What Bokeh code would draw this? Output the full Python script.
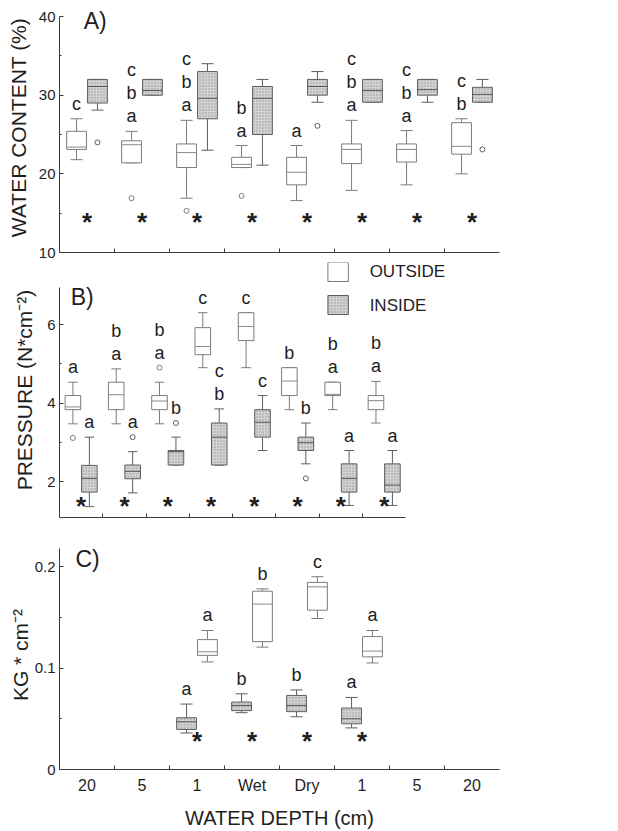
from bokeh.plotting import figure
from bokeh.models import FixedTicker, Range1d, ColumnDataSource
from bokeh.layouts import column
from bokeh.core.properties import value
from bokeh.embed import file_html
from bokeh.resources import INLINE

# ---------------- data ----------------
depth_labels = ["20", "5", "1", "Wet", "Dry", "1", "5", "20"]

# A) water content (%)
wc_out_low = [21.8, 21.4, 16.9, 20.8, 16.6, 17.9, 18.6, 20.0]
wc_out_q1 = [23.1, 21.4, 20.8, 20.8, 18.6, 21.3, 21.5, 22.5]
wc_out_med = [23.4, 23.7, 22.7, 21.2, 20.2, 23.1, 23.1, 23.5]
wc_out_q3 = [25.4, 24.2, 23.8, 22.1, 22.1, 23.8, 23.8, 26.5]
wc_out_high = [27.0, 25.4, 26.8, 23.6, 23.6, 26.8, 25.5, 27.0]
wc_out_outl_cat = [1, 2, 3]
wc_out_outl_val = [16.9, 15.3, 17.2]
wc_out_letters = ["c", "abc", "abc", "ab", "a", "abc", "abc", "bc"]

wc_in_low = [28.1, 30.0, 23.0, 21.1, 29.1, 29.1, 29.1, 29.1]
wc_in_q1 = [29.0, 30.0, 27.0, 25.0, 30.0, 29.1, 30.0, 29.1]
wc_in_med = [31.1, 30.6, 29.6, 29.6, 31.1, 30.6, 30.7, 30.1]
wc_in_q3 = [32.0, 32.0, 33.0, 31.1, 32.0, 32.0, 32.0, 31.0]
wc_in_high = [32.0, 32.0, 34.0, 32.0, 33.0, 32.0, 32.0, 32.0]
wc_in_outl_cat = [0, 4, 7]
wc_in_outl_val = [24.0, 26.1, 23.1]
wc_in_letters = ["", "", "", "", "", "", "", ""]
wc_signif = [1, 1, 1, 1, 1, 1, 1, 1]

# B) pressure (N*cm-2)
pr_out_low = [3.47, 3.47, 3.47, 4.90, 4.90, 3.83, 3.83, 3.49]
pr_out_q1 = [3.83, 3.83, 3.83, 5.23, 5.59, 4.19, 4.19, 3.83]
pr_out_med = [3.90, 4.21, 4.05, 5.44, 5.95, 4.56, 4.22, 4.06]
pr_out_q3 = [4.19, 4.53, 4.19, 5.92, 6.30, 4.90, 4.53, 4.19]
pr_out_high = [4.53, 4.87, 4.53, 6.30, 6.30, 4.90, 4.53, 4.55]
pr_out_outl_cat = [0, 2]
pr_out_outl_val = [3.11, 4.90]
pr_out_letters = ["a", "ab", "ab", "c", "c", "b", "ab", "ab"]

pr_in_low = [1.36, 1.71, 2.42, 2.42, 2.79, 2.45, 1.39, 1.39]
pr_in_q1 = [1.73, 2.07, 2.42, 2.42, 3.13, 2.79, 1.73, 1.73]
pr_in_med = [2.08, 2.26, 2.76, 3.13, 3.51, 2.99, 2.08, 1.91]
pr_in_q3 = [2.41, 2.42, 2.79, 3.49, 3.83, 3.13, 2.45, 2.45]
pr_in_high = [3.13, 2.76, 3.13, 3.85, 4.19, 3.49, 2.79, 2.79]
pr_in_outl_cat = [1, 2, 5]
pr_in_outl_val = [3.13, 3.49, 2.08]
pr_in_letters = ["a", "a", "b", "bc", "c", "b", "a", "a"]
pr_signif = [1, 1, 1, 1, 1, 1, 1, 1]

# C) KG * cm-2 (only shallow / emerged sites)
kg_out_low = [None, None, 0.106, 0.1206, 0.1488, 0.105, None, None]
kg_out_q1 = [None, None, 0.1125, 0.126, 0.157, 0.111, None, None]
kg_out_med = [None, None, 0.116, 0.163, 0.180, 0.1167, None, None]
kg_out_q3 = [None, None, 0.128, 0.1757, 0.1844, 0.131, None, None]
kg_out_high = [None, None, 0.137, 0.178, 0.190, 0.137, None, None]
kg_out_letters = ["", "", "a", "b", "c", "a", "", ""]

kg_in_low = [None, None, 0.036, 0.056, 0.052, 0.041, None, None]
kg_in_q1 = [None, None, 0.0395, 0.058, 0.057, 0.045, None, None]
kg_in_med = [None, None, 0.047, 0.063, 0.063, 0.050, None, None]
kg_in_q3 = [None, None, 0.051, 0.0665, 0.073, 0.0606, None, None]
kg_in_high = [None, None, 0.0645, 0.0746, 0.0784, 0.071, None, None]
kg_in_letters = ["", "", "a", "b", "b", "a", "", ""]
kg_signif = [0, 0, 1, 1, 1, 1, 0, 0]

# ---------------- style ----------------
FONT = "Liberation Sans"
N = len(depth_labels)
BOX_W = 0.36
CAP_W = 0.22
OFF = 0.19
SHADE = "#d2d2d2"
OUT_LINE = "#7c7c7c"
IN_LINE = "#5e5e5e"
AX = "#3a3a3a"
TXT = "#1e1e1e"
LEFT = 59
CAT_PX = 55.0


def make_fig(height, y0, y1, x_end, top, right, bottom):
    p = figure(width=618, height=height, x_range=Range1d(0, x_end), y_range=Range1d(y0, y1),
               output_backend="svg", toolbar_location=None, title=None,
               min_border_left=LEFT, min_border_right=right,
               min_border_top=top, min_border_bottom=bottom)
    p.outline_line_color = None
    p.xgrid.visible = False
    p.ygrid.visible = False
    return p


def style_axes(p, yticks, yminor, ybounds, ylabel, ystand, show_x, yover=None):
    ya = p.yaxis[0]
    ya.ticker = FixedTicker(ticks=yticks, minor_ticks=yminor)
    ya.bounds = ybounds
    ya.major_tick_in = 4
    ya.major_tick_out = 0
    ya.minor_tick_in = 2
    ya.minor_tick_out = 0
    ya.axis_line_color = AX
    ya.major_tick_line_color = AX
    ya.minor_tick_line_color = AX
    ya.major_label_text_font = FONT
    ya.major_label_text_font_size = "15px"
    ya.major_label_text_color = TXT
    ya.major_label_standoff = 4
    if yover:
        ya.major_label_overrides = yover
    ya.axis_label = ylabel
    ya.axis_label_text_font = FONT
    ya.axis_label_text_font_size = "21px"
    ya.axis_label_text_font_style = "normal"
    ya.axis_label_text_color = TXT
    ya.axis_label_standoff = ystand

    xa = p.xaxis[0]
    xa.bounds = (0, N)
    xa.major_tick_in = 0
    xa.major_tick_out = 0
    xa.minor_tick_in = 4
    xa.minor_tick_out = 0
    xa.axis_line_color = AX
    xa.minor_tick_line_color = AX
    if show_x:
        xa.ticker = FixedTicker(ticks=[i + 0.5 for i in range(N)], minor_ticks=list(range(1, N)))
        xa.major_label_overrides = {i + 0.5: lab for i, lab in enumerate(depth_labels)}
        xa.major_label_text_font = FONT
        xa.major_label_text_font_size = "16px"
        xa.major_label_text_color = TXT
        xa.major_label_standoff = 7
        xa.axis_label = "WATER DEPTH (cm)"
        xa.axis_label_text_font = FONT
        xa.axis_label_text_font_size = "20px"
        xa.axis_label_text_font_style = "normal"
        xa.axis_label_text_color = TXT
        xa.axis_label_standoff = 10
    else:
        xa.ticker = FixedTicker(ticks=[], minor_ticks=list(range(1, N)))
        xa.major_label_standoff = 0


def draw_group(p, dx, low, q1, med, q3, high, outl_cat, outl_val, letters, shaded):
    idx = [i for i in range(N) if med[i] is not None]
    x = [i + 0.5 + dx for i in idx]
    lo = [low[i] for i in idx]
    b = [q1[i] for i in idx]
    m = [med[i] for i in idx]
    t = [q3[i] for i in idx]
    hi = [high[i] for i in idx]
    lc = IN_LINE if shaded else OUT_LINE
    p.segment(x0=x, y0=t, x1=x, y1=hi, line_color=lc, line_width=1)
    p.segment(x0=x, y0=b, x1=x, y1=lo, line_color=lc, line_width=1)
    p.segment(x0=[v - CAP_W / 2 for v in x], y0=hi, x1=[v + CAP_W / 2 for v in x], y1=hi,
              line_color=lc, line_width=1)
    p.segment(x0=[v - CAP_W / 2 for v in x], y0=lo, x1=[v + CAP_W / 2 for v in x], y1=lo,
              line_color=lc, line_width=1)
    if shaded:
        p.vbar(x=x, width=BOX_W, bottom=b, top=t, fill_color=SHADE, line_color=lc, line_width=1,
               hatch_pattern="dot", hatch_color="#8c8c8c", hatch_scale=3, hatch_weight=0.7,
               hatch_alpha=0.8)
    else:
        p.vbar(x=x, width=BOX_W, bottom=b, top=t, fill_color="white", line_color=lc, line_width=1)
    p.segment(x0=[v - BOX_W / 2 for v in x], y0=m, x1=[v + BOX_W / 2 for v in x], y1=m,
              line_color="#555555" if shaded else "#8a8a8a", line_width=1)
    if outl_cat:
        p.scatter(x=[c + 0.5 + dx for c in outl_cat], y=outl_val, marker="circle", size=5,
                  fill_color="white", line_color=lc, line_width=1)
    tx, ty, tt, toff = [], [], [], []
    for i in idx:
        top = max([high[i]] + [v for c, v in zip(outl_cat, outl_val) if c == i])
        for j, ch in enumerate(letters[i]):
            tx.append(i + 0.5 + dx)
            ty.append(top)
            tt.append(ch)
            toff.append(-(15 + 23 * j))
    if tx:
        src = ColumnDataSource(dict(x=tx, y=ty, text=tt, off=toff))
        p.text(x="x", y="y", text="text", y_offset="off", source=src, text_align="center",
               text_baseline="middle", text_font=value(FONT), text_font_size="18px",
               text_color=TXT)


def draw_stars(p, signif, ypos):
    xs = [i + 0.5 for i in range(N) if signif[i]]
    p.text(x=xs, y=[ypos] * len(xs), text=["*"] * len(xs), text_align="center",
           text_baseline="middle", text_font=value(FONT), text_font_size="26px",
           text_font_style="bold", text_color=TXT, y_offset=3)


def panel_tag(p, x, y, label):
    p.text(x=[x], y=[y], text=[label], text_align="left", text_baseline="middle",
           text_font=value(FONT), text_font_size="23px", text_color=TXT)


# ---------------- panel A ----------------
A_PX = 236 / 30.0
pA = make_fig(262, 10, 40 + 14 / A_PX, N, 2, 618 - LEFT - 440, 10)
style_axes(pA, [10, 20, 30, 40], [15, 25, 35], (10, 40), "WATER CONTENT (%)", 6, False)
draw_group(pA, -OFF, wc_out_low, wc_out_q1, wc_out_med, wc_out_q3, wc_out_high,
           wc_out_outl_cat, wc_out_outl_val, wc_out_letters, False)
draw_group(pA, OFF, wc_in_low, wc_in_q1, wc_in_med, wc_in_q3, wc_in_high,
           wc_in_outl_cat, wc_in_outl_val, wc_in_letters, True)
draw_stars(pA, wc_signif, 14.3)
panel_tag(pA, 0.44, 39.4, "A)")

# ---------------- panel B ----------------
B_PX = 39.25
B_BOT = 1.083
B_TOP = B_BOT + 255 / B_PX
pB = make_fig(263, B_BOT, B_TOP, (618 - LEFT) / CAT_PX, 0, 0, 8)
style_axes(pB, [2, 4, 6], [3, 5], (B_BOT, 6.94), "PRESSURE (N*cm\u207b\u00b2)", 8, False)
draw_group(pB, -OFF, pr_out_low, pr_out_q1, pr_out_med, pr_out_q3, pr_out_high,
           pr_out_outl_cat, pr_out_outl_val, pr_out_letters, False)
draw_group(pB, OFF, pr_in_low, pr_in_q1, pr_in_med, pr_in_q3, pr_in_high,
           pr_in_outl_cat, pr_in_outl_val, pr_in_letters, True)
draw_stars(pB, pr_signif, 1.45)
panel_tag(pB, 0.26, 6.71, "B)")

# legend (drawn with the same box styles)
lg_l, lg_r = 6.2, 6.673
pB.quad(left=[lg_l], right=[lg_r], top=[7.58], bottom=[7.096], fill_color="white",
        line_color=OUT_LINE, line_width=1)
pB.quad(left=[lg_l], right=[lg_r], top=[6.739], bottom=[6.255], fill_color=SHADE,
        line_color=IN_LINE, line_width=1, hatch_pattern="dot", hatch_color="#8c8c8c",
        hatch_scale=3, hatch_weight=0.7, hatch_alpha=0.8)
pB.text(x=[7.164, 7.164], y=[7.35, 6.484], text=["OUTSIDE", "INSIDE"], text_align="left",
        text_baseline="middle", text_font=value(FONT), text_font_size="17px", text_color=TXT)

# ---------------- panel C ----------------
C_PX = 1028.0
pC = make_fig(306, 0, 232 / C_PX, N, 15, 618 - LEFT - 440, 59)
style_axes(pC, [0, 0.1, 0.2], [0.05, 0.15], (0, 0.218), "KG * cm\u207b\u00b2", 0, True,
           yover={0: "0", 0.1: "0.1", 0.2: "0.2"})
draw_group(pC, -OFF, kg_in_low, kg_in_q1, kg_in_med, kg_in_q3, kg_in_high,
           [], [], kg_in_letters, True)
draw_group(pC, OFF, kg_out_low, kg_out_q1, kg_out_med, kg_out_q3, kg_out_high,
           [], [], kg_out_letters, False)
draw_stars(pC, kg_signif, 0.031)
panel_tag(pC, 0.29, 0.207, "C)")

layout = column(pA, pB, pC, spacing=0)
open("out.html", "w").write(file_html(layout, INLINE))
